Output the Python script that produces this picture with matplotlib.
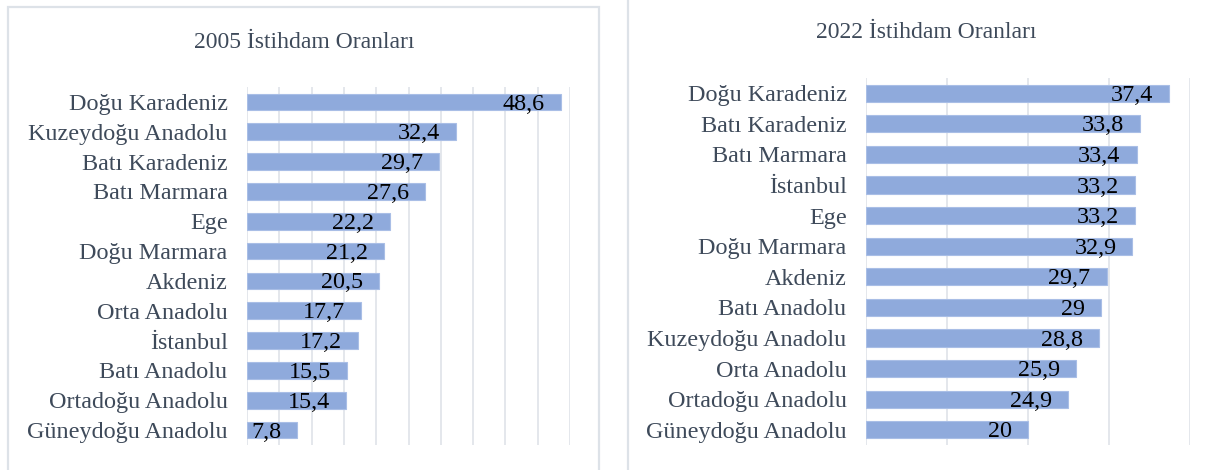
import matplotlib
matplotlib.use("Agg")
import matplotlib.pyplot as plt
from matplotlib.patches import Rectangle
from matplotlib.lines import Line2D

# ── Veriler ──────────────────────────────────────────────────────────────────
bolgeler_2005 = ["Doğu Karadeniz", "Kuzeydoğu Anadolu", "Batı Karadeniz", "Batı Marmara",
                 "Ege", "Doğu Marmara", "Akdeniz", "Orta Anadolu", "İstanbul",
                 "Batı Anadolu", "Ortadoğu Anadolu", "Güneydoğu Anadolu"]
oran_2005 = [48.6, 32.4, 29.7, 27.6, 22.2, 21.2, 20.5, 17.7, 17.2, 15.5, 15.4, 7.8]

bolgeler_2022 = ["Doğu Karadeniz", "Batı Karadeniz", "Batı Marmara", "İstanbul",
                 "Ege", "Doğu Marmara", "Akdeniz", "Batı Anadolu", "Kuzeydoğu Anadolu",
                 "Orta Anadolu", "Ortadoğu Anadolu", "Güneydoğu Anadolu"]
oran_2022 = [37.4, 33.8, 33.4, 33.2, 33.2, 32.9, 29.7, 29, 28.8, 25.9, 24.9, 20]

W, H = 1217, 470
FONTE = "Liberation Serif"
COR_TEXTO = "#3E4A5A"
COR_BARRA = "#8FAADC"
COR_GRADE = "#E2E5EA"
COR_BORDA = "#DDE2E8"


def px(x0, y0, x1, y1):
    # caixa em pixels (de cima para baixo) -> fração da figura
    return [x0 / W, 1 - y1 / H, (x1 - x0) / W, (y1 - y0) / H]


fig = plt.figure(figsize=(W / 100, H / 100), dpi=100)

# bordas dos painéis
fig.patches.append(Rectangle((7.5 / W, -0.05), (599 - 7.5) / W, 1 - 7 / H + 0.05,
                             transform=fig.transFigure, fill=False,
                             edgecolor=COR_BORDA, linewidth=1.6))
fig.add_artist(Line2D([628 / W, 628 / W], [0, 1], transform=fig.transFigure,
                      color=COR_BORDA, linewidth=1.6))

paineis = [
    (bolgeler_2005, oran_2005, px(247, 87, 570, 445), 50, 5, "2005 İstihdam Oranları", (304, 42)),
    (bolgeler_2022, oran_2022, px(866, 78, 1190, 445), 40, 10, "2022 İstihdam Oranları", (926, 33)),
]

for nomes, valores, caixa, xmax, passo, titulo, (tx, ty) in paineis:
    ax = fig.add_axes(caixa)
    pos = list(range(len(nomes)))
    ax.barh(pos, valores, height=0.56, color=COR_BARRA, edgecolor="#A9BEE6",
            linewidth=0.8, zorder=2)
    ax.set_xlim(0, xmax)
    ax.set_ylim(len(nomes) - 0.5, -0.5)
    ax.set_xticks(range(0, xmax + 1, passo))
    ax.set_xticklabels([])
    ax.grid(axis="x", color=COR_GRADE, linewidth=1.3, zorder=0)
    ax.set_yticks(pos)
    ax.set_yticklabels(nomes, fontfamily=FONTE, fontsize=17.4, color=COR_TEXTO)
    ax.tick_params(axis="both", length=0)
    ax.tick_params(axis="y", pad=14)
    for s in ax.spines.values():
        s.set_visible(False)

    for i, v in enumerate(valores):
        rotulo = f"{v:g}".replace(".", ",")
        ax.annotate(rotulo, xy=(v, i), xytext=(-11.5, -1.5), textcoords="offset points",
                    ha="right", va="center", fontfamily=FONTE, fontsize=17.4,
                    color="black", zorder=3)

    fig.text(tx / W, 1 - ty / H, titulo, ha="center", va="center",
             fontfamily=FONTE, fontsize=17, color=COR_TEXTO)

fig.savefig("out.png", dpi=100)
